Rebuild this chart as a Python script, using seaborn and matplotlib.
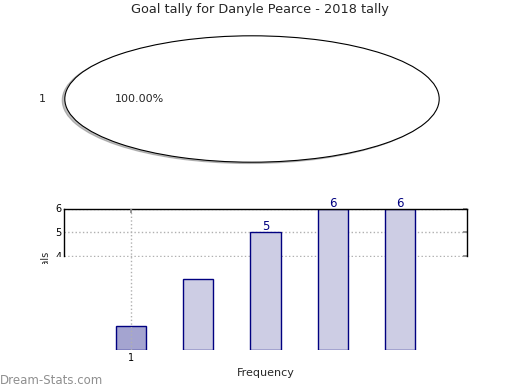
import matplotlib
matplotlib.use("Agg")
import matplotlib.pyplot as plt
from matplotlib.patches import Rectangle
import seaborn as sns
import pandas as pd

# data
title = "Goal tally for Danyle Pearce - 2018 tally"
pie_labels = ["1"]
pie_values = [1]
bar_categories = ["1", "2", "3", "4", "5"]
bar_values = [1, 3, 5, 6, 6]

sns.set_theme(style="white")
plt.rcParams["font.family"] = ["DejaVu Sans"]

fig = plt.figure(figsize=(5.2, 3.9), dpi=100)
fig.suptitle(title, fontsize=9.3, x=0.5, y=1 - 10 / 390, va="center")

# pie on top (squashed into an ellipse)
ax1 = fig.add_axes([18 / 520, 1 - 178 / 390, 468 / 520, 158 / 390])
ax1.pie(pie_values, labels=pie_labels, autopct="%1.2f%%",
        shadow=dict(ox=-0.01, oy=-0.015, shade=0.5),
        colors=["white"], wedgeprops=dict(edgecolor="black", linewidth=0.8),
        textprops=dict(fontsize=8))
ax1.set_aspect("auto")
ax1.set_xlim(-1.25, 1.25)
ax1.set_ylim(-1.25, 1.25)

# bar chart below
ax2 = fig.add_axes([64 / 520, 1 - 350 / 390, 403 / 520, 141.5 / 390])
df = pd.DataFrame({"cat": bar_categories, "goals": bar_values})
colors = ["#a4a4d0"] + ["#cdcde4"] * (len(bar_categories) - 1)
sns.barplot(data=df, x="cat", y="goals", hue="cat", palette=colors, legend=False,
            width=0.45, edgecolor="navy", linewidth=1, saturation=1, ax=ax2, zorder=3)
for cont in ax2.containers:
    ax2.bar_label(cont, color="navy", fontsize=8.5, padding=-1, zorder=2.55)

ax2.set_xlim(-1.0, 5.0)
ax2.set_ylim(0, 6)
ax2.set_yticks(range(0, 7))
ax2.set_xticks([0])
ax2.set_xticklabels([bar_categories[0]])
ax2.grid(True, linestyle=":", color="#b0b0b0", linewidth=1)
ax2.tick_params(direction="in", length=3, labelsize=7, pad=2, right=True, top=True,
                colors="#888888", labelcolor="black")

# only the upper part of the frame shows
ax2.spines["bottom"].set_visible(False)
for side in ["left", "right"]:
    ax2.spines[side].set_bounds(4, 6)
for sp in ax2.spines.values():
    sp.set_color("black")
    sp.set_linewidth(1)
    sp.set_zorder(3.5)

ax2.set_xlabel("Frequency", fontsize=8, labelpad=4)
ax2.set_ylabel("Goals", fontsize=7)
ax2.yaxis.set_label_coords(-0.033, 0.604)

# x axis (vertical grid) above the white band, y axis below it
ax2.xaxis.set_zorder(4)
ax2.yaxis.set_zorder(2.5)
ax2.add_patch(Rectangle((-0.03, -0.2), 1.06, 0.66 + 0.2, transform=ax2.transAxes,
                        facecolor="white", edgecolor="none", zorder=2.6, clip_on=False))
ax2.add_patch(Rectangle((-0.12, -0.2), 0.09, 0.608 + 0.2, transform=ax2.transAxes,
                        facecolor="white", edgecolor="none", zorder=2.6, clip_on=False))

fig.text(0.0, 0.025, "Dream-Stats.com", color="#8f8f8f", fontsize=8.5,
         ha="left", va="center")

fig.savefig("out.png", dpi=100)
